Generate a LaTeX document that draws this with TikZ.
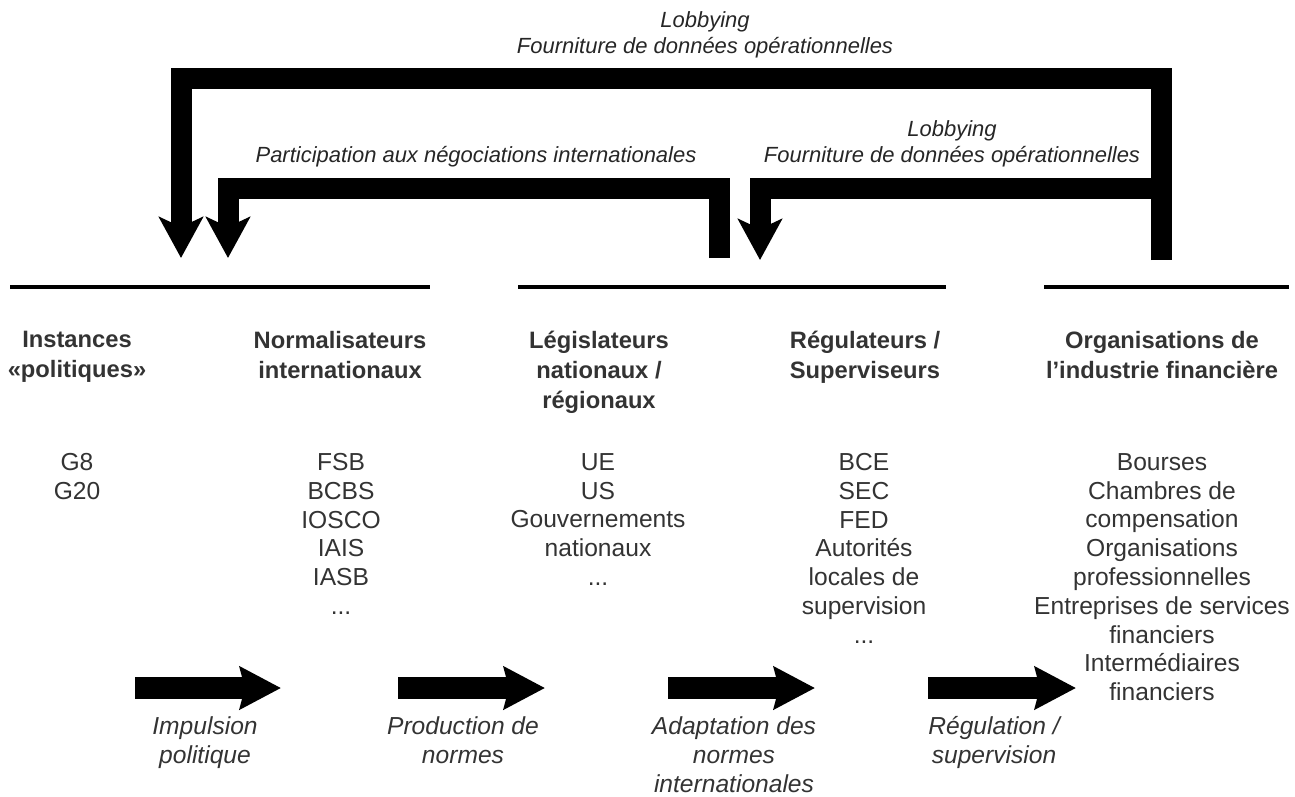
\documentclass[tikz,border=0pt]{standalone}
\usepackage{fontspec}
\setmainfont{Liberation Sans}
\usepackage{xcolor}
\usepackage{tikz}
\usetikzlibrary{positioning,arrows.meta}
\definecolor{txtgray}{HTML}{333333}

\begin{document}
\begin{tikzpicture}[x=0.02cm, y=-0.02cm, inner sep=0pt,
	head/.style={anchor=north, align=center, text=txtgray, font=\fontsize{13.5}{17}\selectfont\bfseries},
	items/.style={anchor=north, align=center, text=txtgray, font=\fontsize{14}{16.4}\selectfont},
	flowlbl/.style={anchor=north, align=center, text=txtgray, font=\fontsize{14}{16.5}\selectfont\itshape},
	loblbl/.style={anchor=north, align=center, text=black!85, font=\fontsize{12.5}{14.8}\selectfont\itshape},
	sep/.style={line width=0.08cm},
	bigarr/.style={line width=0.42cm, -{Stealth[length=0.82cm, width=0.88cm, inset=0.2cm]}},
	flow/.style={line width=0.44cm, -{Stealth[length=0.82cm, width=0.84cm, inset=0.1cm]}}]
		\useasboundingbox (0,0) rectangle (1295,796);

		\node[loblbl] (lob1) at (705,11) {Lobbying\\Fourniture de données opérationnelles};
		\node[loblbl] (part) at (476,146) {Participation aux négociations internationales};
		\node[loblbl] (lob2) at (952,120) {Lobbying\\Fourniture de données opérationnelles};

		\coordinate (rail1) at (0,78);
		\coordinate (rail2) at (0,188);
		\coordinate (indtop) at (1161,260);
		\coordinate (poltip) at (181,258);
		\coordinate (normtip) at (228,258);
		\coordinate (legtop) at (719,258);
		\coordinate (regtip) at (760,260);
		\draw[bigarr] (indtop) -- (indtop |- rail1) -| (poltip);
		\draw[bigarr] (legtop) -- (legtop |- rail2) -| (normtip);
		\draw[bigarr] (indtop |- rail2) -| (regtip);

		\coordinate (s1a) at (10,287);
		\coordinate (s1b) at (430,287);
		\coordinate (s2a) at (518,287);
		\coordinate (s2b) at (946,287);
		\coordinate (s3a) at (1044,287);
		\coordinate (s3b) at (1289,287);
		\draw[sep] (s1a) -- (s1b);
		\draw[sep] (s2a) -- (s2b);
		\draw[sep] (s3a) -- (s3b);

		\node[head] (pol) at (77,331) {Instances\\«politiques»};
		\node[head] (norm) at (340,331) {Normalisateurs\\internationaux};
		\node[head] (leg) at (599,331) {Législateurs\\nationaux /\\régionaux};
		\node[head] (reg) at (865,331) {Régulateurs /\\Superviseurs};
		\node[head] (ind) at (1162,331) {Organisations de\\l’industrie financière};

		\node[items] (polx) at (77,453) {G8\\G20};
		\node[items] (normx) at (341,453) {FSB\\BCBS\\IOSCO\\IAIS\\IASB\\...};
		\node[items] (legx) at (598,453) {UE\\US\\Gouvernements\\nationaux\\...};
		\node[items] (regx) at (864,453) {BCE\\SEC\\FED\\Autorités\\locales de\\supervision\\...};
		\node[items] (indx) at (1162,453) {Bourses\\Chambres de\\compensation\\Organisations\\professionnelles\\Entreprises de services\\financiers\\Intermédiaires\\financiers};

		\coordinate (f1a) at (135,688);
		\coordinate (f1b) at (281,688);
		\coordinate (f2a) at (398,688);
		\coordinate (f2b) at (545,688);
		\coordinate (f3a) at (668,688);
		\coordinate (f3b) at (815,688);
		\coordinate (f4a) at (928,688);
		\coordinate (f4b) at (1076,688);
		\draw[flow] (f1a) -- (f1b);
		\draw[flow] (f2a) -- (f2b);
		\draw[flow] (f3a) -- (f3b);
		\draw[flow] (f4a) -- (f4b);

		\node[flowlbl] (impl) at (205,716) {Impulsion\\politique};
		\node[flowlbl] (prod) at (463,716) {Production de\\normes};
		\node[flowlbl] (adap) at (734,716) {Adaptation des\\normes\\internationales};
		\node[flowlbl] (regl) at (994,716) {Régulation /\\supervision};
	\end{tikzpicture}
\end{document}
